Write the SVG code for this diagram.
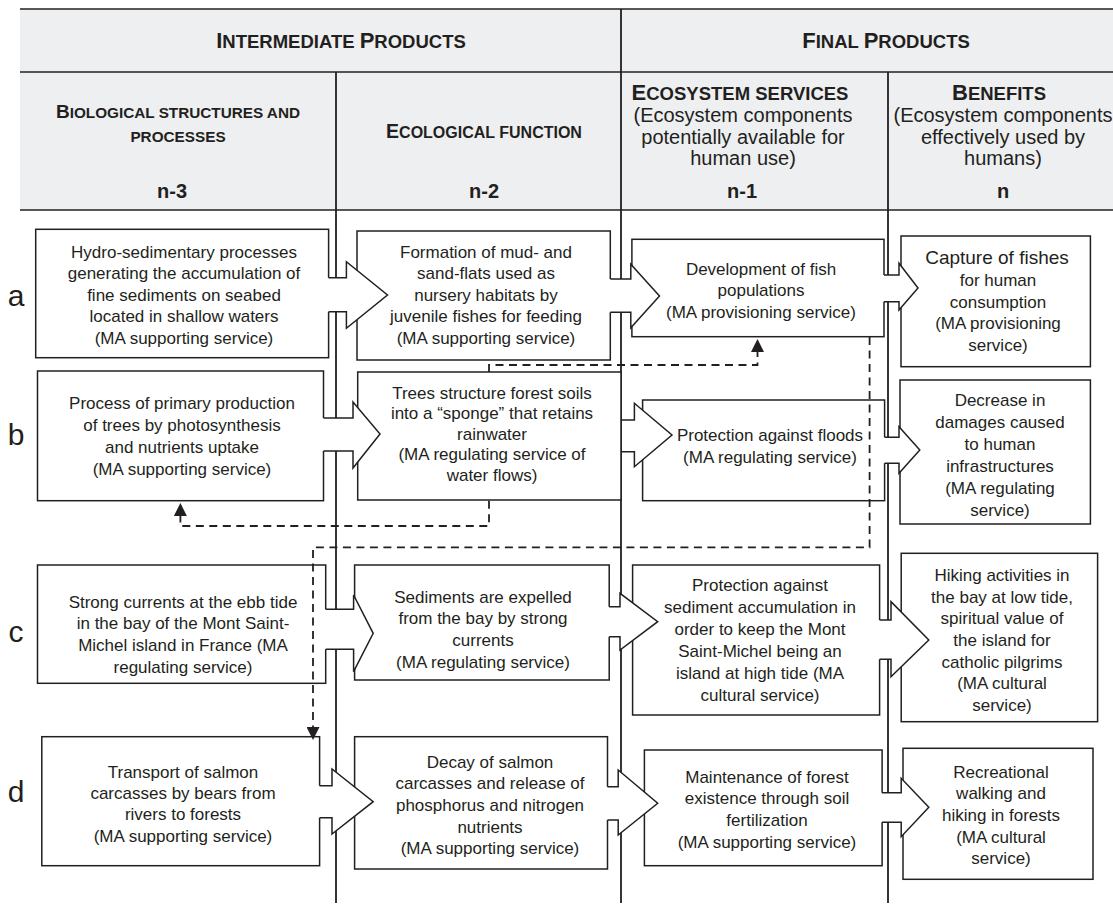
<svg xmlns="http://www.w3.org/2000/svg" width="1113" height="905" viewBox="0 0 1113 905">
<defs>
<style>
.ln{stroke:#231f20;stroke-width:1.8;fill:none}
.hl{stroke:#231f20;stroke-width:1.5;fill:none}
.box{fill:#fff;stroke:#231f20;stroke-width:1.5}
.af{fill:#fff;stroke:none}
.as{fill:none;stroke:#231f20;stroke-width:1.5;stroke-linejoin:miter}
.dash{fill:none;stroke:#231f20;stroke-width:1.8;stroke-dasharray:8 5.5}
text{font-family:"Liberation Sans",Arial,sans-serif;fill:#231f20;text-anchor:middle}
.t{font-size:17px}
.big1{font-size:19px}
.sub{font-size:20px}
.h1{font-size:18.5px;font-weight:bold}
.h1 .c{font-size:22px}
.h2{font-size:15.3px;font-weight:bold}
.h2 .c{font-size:19px}
.h3{font-size:16px;font-weight:bold}
.h3 .c{font-size:19.5px}
.h4{font-size:18.5px;font-weight:bold}
.h4 .c{font-size:22px}
.num{font-size:20px;font-weight:bold}
.lab{font-size:30px}
</style>
<marker id="ah" viewBox="0 0 13 13" refX="0" refY="6.5" markerWidth="13" markerHeight="13" markerUnits="userSpaceOnUse" orient="auto">
<path d="M0,0 L13,6.5 L0,13 Z" fill="#231f20"/>
</marker>
</defs>

<g id="header">
<rect x="20" y="9" width="1093" height="201" fill="#eeeff1"/>
<line class="hl" x1="20" y1="9" x2="1113" y2="9"/>
<line class="hl" x1="20" y1="72" x2="1113" y2="72"/>
<line class="hl" x1="20" y1="210" x2="1113" y2="210"/>
<text class="h1" x="341" y="48"><tspan class="c">I</tspan>NTERMEDIATE <tspan class="c">P</tspan>RODUCTS</text>
<text class="h1" x="886" y="48"><tspan class="c">F</tspan>INAL <tspan class="c">P</tspan>RODUCTS</text>
<text class="h2" x="178" y="118"><tspan class="c">B</tspan>IOLOGICAL STRUCTURES AND</text>
<text class="h2" x="178" y="141.5">PROCESSES</text>
<text class="h3" x="484" y="138"><tspan class="c">E</tspan>COLOGICAL FUNCTION</text>
<text class="h4" x="740" y="100"><tspan class="c">E</tspan>COSYSTEM SERVICES</text>
<text class="sub" x="743" y="122">(Ecosystem components</text>
<text class="sub" x="743" y="143.5">potentially available for</text>
<text class="sub" x="743" y="165">human use)</text>
<text class="h4" x="999" y="100"><tspan class="c">B</tspan>ENEFITS</text>
<text class="sub" x="1003" y="122">(Ecosystem components</text>
<text class="sub" x="1003" y="143.5">effectively used by</text>
<text class="sub" x="1003" y="165">humans)</text>
<text class="num" x="172" y="198">n-3</text>
<text class="num" x="484" y="198">n-2</text>
<text class="num" x="742" y="198">n-1</text>
<text class="num" x="1003" y="198">n</text>
</g>

<g id="grid">
<line class="ln" x1="336" y1="72" x2="336" y2="903"/>
<line class="ln" x1="621" y1="9" x2="621" y2="903"/>
<line class="ln" x1="888" y1="72" x2="888" y2="903"/>
</g>

<g id="row-labels">
<text class="lab" x="16" y="306">a</text>
<text class="lab" x="16" y="445">b</text>
<text class="lab" x="16" y="642">c</text>
<text class="lab" x="16" y="802">d</text>
</g>

<g id="a1">
<rect class="box" x="35.7" y="229.3" width="292.9" height="128.4"/>
<text class="t" x="184"><tspan x="184" y="257.5">Hydro-sedimentary processes</tspan><tspan x="184" y="279">generating the accumulation of</tspan><tspan x="184" y="300.5">fine sediments on seabed</tspan><tspan x="184" y="322">located in shallow waters</tspan><tspan x="184" y="343.5">(MA supporting service)</tspan></text>
</g>
<g id="a2">
<rect class="box" x="357" y="231" width="253.3" height="129"/>
<text class="t" x="486"><tspan x="486" y="257.5">Formation of mud- and</tspan><tspan x="486" y="279">sand-flats used as</tspan><tspan x="486" y="300.5">nursery habitats by</tspan><tspan x="486" y="322">juvenile fishes for feeding</tspan><tspan x="486" y="343.5">(MA supporting service)</tspan></text>
</g>
<g id="a3">
<rect class="box" x="631.9" y="239.3" width="252.1" height="97.4"/>
<text class="t" x="761"><tspan x="761" y="274.5">Development of fish</tspan><tspan x="761" y="296">populations</tspan><tspan x="761" y="317.5">(MA provisioning service)</tspan></text>
</g>
<g id="a4">
<rect class="box" x="901" y="236" width="189.4" height="130.7"/>
<text class="t" x="998"><tspan class="big1" x="997" y="263.5">Capture of fishes</tspan><tspan x="998" y="286">for human</tspan><tspan x="998" y="307.5">consumption</tspan><tspan x="998" y="329">(MA provisioning</tspan><tspan x="998" y="350.5">service)</tspan></text>
</g>

<g id="b1">
<rect class="box" x="37.5" y="371" width="286" height="129.7"/>
<text class="t" x="182"><tspan x="182" y="409">Process of primary production</tspan><tspan x="182" y="431">of trees by photosynthesis</tspan><tspan x="182" y="452.5">and nutrients uptake</tspan><tspan x="182" y="474.5">(MA supporting service)</tspan></text>
</g>
<g id="b2">
<rect class="box" x="357.7" y="372" width="263.3" height="128"/>
<text class="t" x="492"><tspan x="492" y="398.5">Trees structure forest soils</tspan><tspan x="492" y="419">into a “sponge” that retains</tspan><tspan x="492" y="439.5">rainwater</tspan><tspan x="492" y="460">(MA regulating service of</tspan><tspan x="492" y="480.5">water flows)</tspan></text>
</g>
<g id="b3">
<rect class="box" x="642.6" y="400" width="242" height="100.7"/>
<text class="t" x="770"><tspan x="770" y="441">Protection against floods</tspan><tspan x="770" y="463">(MA regulating service)</tspan></text>
</g>
<g id="b4">
<rect class="box" x="900" y="380" width="190.4" height="144"/>
<text class="t" x="1000"><tspan x="1000" y="406">Decrease in</tspan><tspan x="1000" y="428">damages caused</tspan><tspan x="1000" y="450">to human</tspan><tspan x="1000" y="472">infrastructures</tspan><tspan x="1000" y="494">(MA regulating</tspan><tspan x="1000" y="516">service)</tspan></text>
</g>

<g id="c1">
<rect class="box" x="37.5" y="565" width="288.2" height="118.3"/>
<text class="t" x="183"><tspan x="183" y="607.5">Strong currents at the ebb tide</tspan><tspan x="183" y="629">in the bay of the Mont Saint-</tspan><tspan x="183" y="650.5">Michel island in France (MA</tspan><tspan x="183" y="672.5">regulating service)</tspan></text>
</g>
<g id="c2">
<rect class="box" x="354.6" y="565" width="254.6" height="115"/>
<text class="t" x="483"><tspan x="483" y="602.5">Sediments are expelled</tspan><tspan x="483" y="624">from the bay by strong</tspan><tspan x="483" y="645.5">currents</tspan><tspan x="483" y="667.5">(MA regulating service)</tspan></text>
</g>
<g id="c3">
<rect class="box" x="632.6" y="565" width="247" height="150"/>
<text class="t" x="760"><tspan x="760" y="591">Protection against</tspan><tspan x="760" y="613">sediment accumulation in</tspan><tspan x="760" y="635">order to keep the Mont</tspan><tspan x="760" y="657">Saint-Michel being an</tspan><tspan x="760" y="679">island at high tide (MA</tspan><tspan x="760" y="701">cultural service)</tspan></text>
</g>
<g id="c4">
<rect class="box" x="901.2" y="553.3" width="196.4" height="168.4"/>
<text class="t" x="1002"><tspan x="1002" y="581">Hiking activities in</tspan><tspan x="1002" y="602.5">the bay at low tide,</tspan><tspan x="1002" y="624">spiritual value of</tspan><tspan x="1002" y="646">the island for</tspan><tspan x="1002" y="667.5">catholic pilgrims</tspan><tspan x="1002" y="689">(MA cultural</tspan><tspan x="1002" y="711">service)</tspan></text>
</g>

<g id="d1">
<rect class="box" x="41.8" y="736.7" width="277.8" height="129"/>
<text class="t" x="183"><tspan x="183" y="777.5">Transport of salmon</tspan><tspan x="183" y="799">carcasses by bears from</tspan><tspan x="183" y="820">rivers to forests</tspan><tspan x="183" y="841.5">(MA supporting service)</tspan></text>
</g>
<g id="d2">
<rect class="box" x="354.6" y="736.7" width="252.9" height="132.3"/>
<text class="t" x="490"><tspan x="490" y="767.5">Decay of salmon</tspan><tspan x="490" y="789">carcasses and release of</tspan><tspan x="490" y="811">phosphorus and nitrogen</tspan><tspan x="490" y="832.5">nutrients</tspan><tspan x="490" y="854">(MA supporting service)</tspan></text>
</g>
<g id="d3">
<rect class="box" x="644.4" y="750" width="237.7" height="115.7"/>
<text class="t" x="767"><tspan x="767" y="782.5">Maintenance of forest</tspan><tspan x="767" y="804">existence through soil</tspan><tspan x="767" y="826">fertilization</tspan><tspan x="767" y="847.5">(MA supporting service)</tspan></text>
</g>
<g id="d4">
<rect class="box" x="903" y="748.3" width="190" height="131"/>
<text class="t" x="1001"><tspan x="1001" y="777.5">Recreational</tspan><tspan x="1001" y="799">walking and</tspan><tspan x="1001" y="821">hiking in forests</tspan><tspan x="1001" y="842.5">(MA cultural</tspan><tspan x="1001" y="864">service)</tspan></text>
</g>

<g id="connectors">
<polygon class="af" points="327,277.7 346.4,277.7 346.4,261.7 387.5,295 346.4,328.3 346.4,311.7 327,311.7"/>
<polyline class="as" points="328.6,277.7 346.4,277.7 346.4,261.7 387.5,295 346.4,328.3 346.4,311.7 328.6,311.7"/>
<polygon class="af" points="609,279 630.8,279 630.8,264.3 659.5,296 630.8,327.7 630.8,312.3 609,312.3"/>
<polyline class="as" points="610.3,279 630.8,279 630.8,264.3 659.5,296 630.8,327.7 630.8,312.3 610.3,312.3"/>
<polygon class="af" points="882.5,275 899,275 899,263.3 918,288 899,310 899,301.7 882.5,301.7"/>
<polyline class="as" points="884,275 899,275 899,263.3 918,288 899,310 899,301.7 884,301.7"/>
<polygon class="af" points="322,418 353,418 353,402 380,434 353,468 353,451 322,451"/>
<polyline class="as" points="323.5,418 353,418 353,402 380,434 353,468 353,451 323.5,451"/>
<polygon class="af" points="622,420 634.4,420 634.4,403.3 672,435 634.4,466.7 634.4,451.7 622,451.7"/>
<polyline class="as" points="621,420 634.4,420 634.4,403.3 672,435 634.4,466.7 634.4,451.7 621,451.7"/>
<polygon class="af" points="883,437.3 899,437.3 899,426.7 919.8,450 899,473.3 899,463.3 883,463.3"/>
<polyline class="as" points="884.6,437.3 899,437.3 899,426.7 919.8,450 899,473.3 899,463.3 884.6,463.3"/>
<polygon class="af" points="324,609.3 353.6,609.3 353.6,595 373.2,633.3 353.6,671.7 353.6,649.3 324,649.3"/>
<polyline class="as" points="325.7,609.3 353.6,609.3 353.6,595 373.2,633.3 353.6,671.7 353.6,649.3 325.7,649.3"/>
<polygon class="af" points="607.5,606.7 620,606.7 620,593.3 657.7,621.7 620,650 620,636.7 607.5,636.7"/>
<polyline class="as" points="609.2,606.7 620,606.7 620,593.3 657.7,621.7 620,650 620,636.7 609.2,636.7"/>
<polygon class="af" points="878,620 891,620 891,601.7 928.8,640 891,676.7 891,659.3 878,659.3"/>
<polyline class="as" points="879.6,620 891,620 891,601.7 928.8,640 891,676.7 891,659.3 879.6,659.3"/>
<polygon class="af" points="318,785.7 332,785.7 332,769 373.2,801.7 332,834 332,817.7 318,817.7"/>
<polyline class="as" points="319.6,785.7 332,785.7 332,769 373.2,801.7 332,834 332,817.7 319.6,817.7"/>
<polygon class="af" points="606,786.7 618.2,786.7 618.2,770 657.7,803.3 618.2,835 618.2,820 606,820"/>
<polyline class="as" points="607.5,786.7 618.2,786.7 618.2,770 657.7,803.3 618.2,835 618.2,820 607.5,820"/>
<polygon class="af" points="880.5,792.7 901.2,792.7 901.2,778.3 928.8,807.3 901.2,836.7 901.2,822.3 880.5,822.3"/>
<polyline class="as" points="882,792.7 901.2,792.7 901.2,778.3 928.8,807.3 901.2,836.7 901.2,822.3 882,822.3"/>
<path class="dash" d="M489,372 V365 H757.5 V352" marker-end="url(#ah)"/>
<path class="dash" d="M489,500.7 V526 H180.4 V516" marker-end="url(#ah)"/>
<path class="dash" d="M869.6,337 V547.3 H313 V727" marker-end="url(#ah)"/>
</g>
</svg>
